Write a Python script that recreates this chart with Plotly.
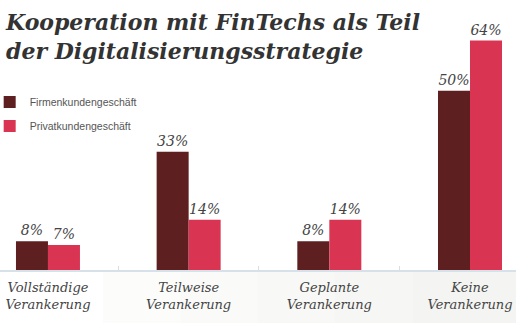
import plotly.graph_objects as go

categories = ["Vollständige<br>Verankerung", "Teilweise<br>Verankerung", "Geplante<br>Verankerung", "Keine<br>Verankerung"]
firmen = [8, 33, 8, 50]
privat = [7, 14, 14, 64]
series_names = ["Firmenkundengeschäft", "Privatkundengeschäft"]
colors = ["#5e1f20", "#d93553"]
title_text = "Kooperation mit FinTechs als Teil<br>der Digitalisierungsstrategie"

x = list(range(len(categories)))
SERIF = "DejaVu Serif"
label_font = dict(family=SERIF, size=13, color="#444444", style="italic")
value_font = dict(family=SERIF, size=14, color="#444444", style="italic")

fig = go.Figure()
for name, vals, col, grp in [(series_names[0], firmen, colors[0], "a"), (series_names[1], privat, colors[1], "b")]:
    fig.add_trace(go.Bar(
        x=x, y=vals, name=name, marker=dict(color=col, line=dict(width=0)),
        texttemplate="%{y}%", textposition="outside", textfont=value_font,
        cliponaxis=False, legendgroup=grp,
    ))

# faint grey background gradient below the axis (right side)
shapes = []
greys = ["#fcfcfb", "#fafaf9", "#f8f8f6", "#f6f6f4", "#f4f4f2"]
for i, g in enumerate(greys):
    shapes.append(dict(type="rect", xref="paper", yref="paper", x0=0.2 + i * 0.15, x1=1.0,
                       y0=-0.3, y1=0, fillcolor=g, line=dict(width=0), layer="below"))

fig.update_layout(
    width=516, height=323,
    margin=dict(l=0, r=0, t=19, b=53, autoexpand=False),
    paper_bgcolor="white", plot_bgcolor="rgba(0,0,0,0)",
    barmode="group", bargap=0.545, bargroupgap=0,
    annotations=[dict(text="<b><i>" + title_text + "</i></b>", xref="paper", yref="paper",
                      x=0.006, y=1.048, xanchor="left", yanchor="top", align="left", showarrow=False,
                      font=dict(family=SERIF, size=22, color="#333333"))],
    legend=dict(x=-0.02, y=0.727, xanchor="left", yanchor="top", tracegroupgap=5,
                font=dict(family="Liberation Sans, Arial", size=10.5, color="#555555"),
                bgcolor="rgba(0,0,0,0)"),
    xaxis=dict(range=[-0.341, 3.327], tickvals=x, ticktext=categories, ticks="",
               tickfont=label_font, showgrid=False, zeroline=False, automargin=False,
               ticklabeloverflow="allow", ticklabelstandoff=4,
               showline=True, linecolor="#d6e1ea", linewidth=2,
               minor=dict(tick0=0.5, dtick=1, ticks="inside", ticklen=4, tickcolor="#dddddd", showgrid=False)),
    yaxis=dict(range=[0, 70], visible=False, showgrid=False, zeroline=False, automargin=False),
    shapes=shapes,
)

fig.write_html("out.html")
